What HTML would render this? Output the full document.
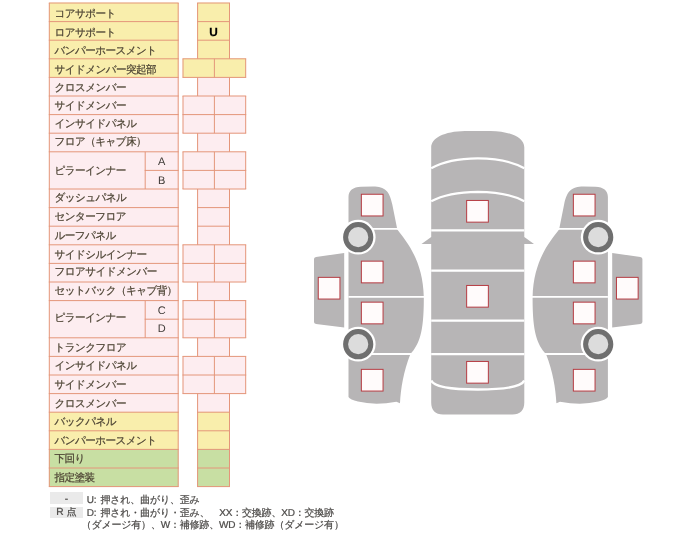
<!DOCTYPE html>
<html lang="ja"><head><meta charset="utf-8"><title>骨格チェック</title>
<style>
html,body{margin:0;padding:0;background:#fff}
body{width:692px;height:535px;position:relative;overflow:hidden;font-family:"Liberation Sans",sans-serif;color:#4d4434;text-rendering:geometricPrecision}
svg{position:absolute;left:0;top:0}
#t{position:absolute;left:0;top:0;width:692px;height:535px;will-change:transform;-webkit-text-stroke:0.22px currentColor}
.lbl{position:absolute;left:54.6px;height:18.60px;line-height:18.60px;font-size:10.6px;letter-spacing:-0.6px;white-space:nowrap;margin-top:0px}
.sub{position:absolute;left:145.2px;width:33.0px;text-align:center;height:18.60px;line-height:18.60px;font-size:11px;margin-top:1.3px;-webkit-text-stroke:0;color:#3e3a36}
.u{position:absolute;left:197.6px;width:31.9px;text-align:center;height:18.60px;line-height:18.60px;font-size:11.8px;font-weight:bold;color:#000;margin-top:1.3px}
.lg{position:absolute;color:#4c4a48;font-size:10px;letter-spacing:-0.2px;word-spacing:1.5px;white-space:nowrap;line-height:12.6px}
.gb{position:absolute;left:49.6px;width:33.8px;background:#eaeaea;color:#4c4a48;text-align:center;font-size:10.2px;line-height:12px;height:11.9px;overflow:hidden}
</style></head><body>
<svg width="692" height="535" viewBox="0 0 692 535">
<rect x="49.05" y="2.75" width="129.40" height="19.10" fill="#f9eeac"/>
<rect x="197.35" y="2.75" width="32.40" height="19.10" fill="#f9eeac"/>
<rect x="49.05" y="21.35" width="129.40" height="19.10" fill="#f9eeac"/>
<rect x="197.35" y="21.35" width="32.40" height="19.10" fill="#f9eeac"/>
<rect x="49.05" y="39.95" width="129.40" height="19.10" fill="#f9eeac"/>
<rect x="197.35" y="39.95" width="32.40" height="19.10" fill="#f9eeac"/>
<rect x="49.05" y="58.55" width="129.40" height="19.10" fill="#f9eeac"/>
<rect x="182.75" y="58.55" width="31.90" height="19.10" fill="#f9eeac"/>
<rect x="214.15" y="58.55" width="31.80" height="19.10" fill="#f9eeac"/>
<rect x="49.05" y="77.15" width="129.40" height="19.10" fill="#fdedf0"/>
<rect x="197.35" y="77.15" width="32.40" height="19.10" fill="#fdedf0"/>
<rect x="49.05" y="95.75" width="129.40" height="19.10" fill="#fdedf0"/>
<rect x="182.75" y="95.75" width="31.90" height="19.10" fill="#fdedf0"/>
<rect x="214.15" y="95.75" width="31.80" height="19.10" fill="#fdedf0"/>
<rect x="49.05" y="114.35" width="129.40" height="19.10" fill="#fdedf0"/>
<rect x="182.75" y="114.35" width="31.90" height="19.10" fill="#fdedf0"/>
<rect x="214.15" y="114.35" width="31.80" height="19.10" fill="#fdedf0"/>
<rect x="49.05" y="132.95" width="129.40" height="19.10" fill="#fdedf0"/>
<rect x="197.35" y="132.95" width="32.40" height="19.10" fill="#fdedf0"/>
<rect x="49.05" y="151.55" width="96.40" height="37.70" fill="#fdedf0"/>
<rect x="144.95" y="151.55" width="33.50" height="19.10" fill="#fdedf0"/>
<rect x="144.95" y="170.15" width="33.50" height="19.10" fill="#fdedf0"/>
<rect x="182.75" y="151.55" width="31.90" height="19.10" fill="#fdedf0"/>
<rect x="214.15" y="151.55" width="31.80" height="19.10" fill="#fdedf0"/>
<rect x="182.75" y="170.15" width="31.90" height="19.10" fill="#fdedf0"/>
<rect x="214.15" y="170.15" width="31.80" height="19.10" fill="#fdedf0"/>
<rect x="49.05" y="188.75" width="129.40" height="19.10" fill="#fdedf0"/>
<rect x="197.35" y="188.75" width="32.40" height="19.10" fill="#fdedf0"/>
<rect x="49.05" y="207.35" width="129.40" height="19.10" fill="#fdedf0"/>
<rect x="197.35" y="207.35" width="32.40" height="19.10" fill="#fdedf0"/>
<rect x="49.05" y="225.95" width="129.40" height="19.10" fill="#fdedf0"/>
<rect x="197.35" y="225.95" width="32.40" height="19.10" fill="#fdedf0"/>
<rect x="49.05" y="244.55" width="129.40" height="19.10" fill="#fdedf0"/>
<rect x="182.75" y="244.55" width="31.90" height="19.10" fill="#fdedf0"/>
<rect x="214.15" y="244.55" width="31.80" height="19.10" fill="#fdedf0"/>
<rect x="49.05" y="263.15" width="129.40" height="19.10" fill="#fdedf0"/>
<rect x="182.75" y="263.15" width="31.90" height="19.10" fill="#fdedf0"/>
<rect x="214.15" y="263.15" width="31.80" height="19.10" fill="#fdedf0"/>
<rect x="49.05" y="281.75" width="129.40" height="19.10" fill="#fdedf0"/>
<rect x="197.35" y="281.75" width="32.40" height="19.10" fill="#fdedf0"/>
<rect x="49.05" y="300.35" width="96.40" height="37.70" fill="#fdedf0"/>
<rect x="144.95" y="300.35" width="33.50" height="19.10" fill="#fdedf0"/>
<rect x="144.95" y="318.95" width="33.50" height="19.10" fill="#fdedf0"/>
<rect x="182.75" y="300.35" width="31.90" height="19.10" fill="#fdedf0"/>
<rect x="214.15" y="300.35" width="31.80" height="19.10" fill="#fdedf0"/>
<rect x="182.75" y="318.95" width="31.90" height="19.10" fill="#fdedf0"/>
<rect x="214.15" y="318.95" width="31.80" height="19.10" fill="#fdedf0"/>
<rect x="49.05" y="337.55" width="129.40" height="19.10" fill="#fdedf0"/>
<rect x="197.35" y="337.55" width="32.40" height="19.10" fill="#fdedf0"/>
<rect x="49.05" y="356.15" width="129.40" height="19.10" fill="#fdedf0"/>
<rect x="182.75" y="356.15" width="31.90" height="19.10" fill="#fdedf0"/>
<rect x="214.15" y="356.15" width="31.80" height="19.10" fill="#fdedf0"/>
<rect x="49.05" y="374.75" width="129.40" height="19.10" fill="#fdedf0"/>
<rect x="182.75" y="374.75" width="31.90" height="19.10" fill="#fdedf0"/>
<rect x="214.15" y="374.75" width="31.80" height="19.10" fill="#fdedf0"/>
<rect x="49.05" y="393.35" width="129.40" height="19.10" fill="#fdedf0"/>
<rect x="197.35" y="393.35" width="32.40" height="19.10" fill="#fdedf0"/>
<rect x="49.05" y="411.95" width="129.40" height="19.10" fill="#f9eeac"/>
<rect x="197.35" y="411.95" width="32.40" height="19.10" fill="#f9eeac"/>
<rect x="49.05" y="430.55" width="129.40" height="19.10" fill="#f9eeac"/>
<rect x="197.35" y="430.55" width="32.40" height="19.10" fill="#f9eeac"/>
<rect x="49.05" y="449.15" width="129.40" height="19.10" fill="#c8dfa3"/>
<rect x="197.35" y="449.15" width="32.40" height="19.10" fill="#c8dfa3"/>
<rect x="49.05" y="467.75" width="129.40" height="19.10" fill="#c8dfa3"/>
<rect x="197.35" y="467.75" width="32.40" height="19.10" fill="#c8dfa3"/>
<path d="M48.80,3.00H178.70M197.10,3.00H230.00M48.80,21.60H178.70M197.10,21.60H230.00M48.80,40.20H178.70M197.10,40.20H230.00M48.80,58.80H178.70M182.50,58.80H246.20M48.80,77.40H178.70M182.50,77.40H246.20M48.80,96.00H178.70M182.50,96.00H246.20M48.80,114.60H178.70M182.50,114.60H246.20M48.80,133.20H178.70M182.50,133.20H246.20M48.80,151.80H178.70M182.50,151.80H246.20M144.70,170.40H178.70M182.50,170.40H246.20M48.80,189.00H178.70M182.50,189.00H246.20M48.80,207.60H178.70M197.10,207.60H230.00M48.80,226.20H178.70M197.10,226.20H230.00M48.80,244.80H178.70M182.50,244.80H246.20M48.80,263.40H178.70M182.50,263.40H246.20M48.80,282.00H178.70M182.50,282.00H246.20M48.80,300.60H178.70M182.50,300.60H246.20M144.70,319.20H178.70M182.50,319.20H246.20M48.80,337.80H178.70M182.50,337.80H246.20M48.80,356.40H178.70M182.50,356.40H246.20M48.80,375.00H178.70M182.50,375.00H246.20M48.80,393.60H178.70M182.50,393.60H246.20M48.80,412.20H178.70M197.10,412.20H230.00M48.80,430.80H178.70M197.10,430.80H230.00M48.80,449.40H178.70M197.10,449.40H230.00M48.80,468.00H178.70M197.10,468.00H230.00M48.80,486.60H178.70M197.10,486.60H230.00M49.30,3.00V486.60M145.20,151.80V189.00M145.20,300.60V337.80M178.20,3.00V486.60M183.00,58.80V77.40M183.00,96.00V133.20M183.00,151.80V189.00M183.00,244.80V282.00M183.00,300.60V337.80M183.00,356.40V393.60M197.60,3.00V58.80M197.60,77.40V96.00M197.60,133.20V151.80M197.60,189.00V244.80M197.60,282.00V300.60M197.60,337.80V356.40M197.60,393.60V486.60M214.40,58.80V77.40M214.40,96.00V133.20M214.40,151.80V189.00M214.40,244.80V282.00M214.40,300.60V337.80M214.40,356.40V393.60M229.50,3.00V58.80M229.50,77.40V96.00M229.50,133.20V151.80M229.50,189.00V244.80M229.50,282.00V300.60M229.50,337.80V356.40M229.50,393.60V486.60M245.70,58.80V77.40M245.70,96.00V133.20M245.70,151.80V189.00M245.70,244.80V282.00M245.70,300.60V337.80M245.70,356.40V393.60" stroke="#e4967a" stroke-width="1" fill="none"/>
<path fill="#b7b5b6" d="M431.2,147.5 C431.2,138 444,131.2 465,130.9 L490.5,130.9 C511.5,131.2 524.3,138 524.3,147.5 L524.3,237 L534,244 L524.3,244 L524.3,402.5 C524.3,410.5 520,414.4 512.5,414.4 L443,414.4 C435.5,414.4 431.2,410.5 431.2,402.5 L431.2,244 L421.5,244 L431.2,237 Z"/>
<path stroke="#fff" fill="none" stroke-width="2.3" d="M431.2,168.3 C444,161 460,158.4 477.75,158.3 C495.5,158.4 511.5,161 524.3,168.3"/>
<path stroke="#fff" fill="none" stroke-width="2.3" d="M431.2,201.2 C444,194.3 460,192 477.75,191.8 C495.5,192 511.5,194.3 524.3,201.2"/>
<path stroke="#fff" fill="none" stroke-width="2.2" d="M431.2,230.4 H524.3 M431.2,270.6 H524.3 M431.2,320.6 H524.3 M431.2,354.1 H524.3"/>
<path stroke="#fff" fill="none" stroke-width="2.5" d="M431.2,380.5 Q435,389.5 477.75,389.5 Q520.5,389.5 524.3,380.5"/>
<path fill="#b7b5b6" d="M348.5,197 C348.5,190.5 353,187 361,186.7 L373,186.5 C385,186.5 389.5,191 392.3,204.5 L397.3,229.5 C408,243 423,262 423.8,297 C424,332 419.5,344 410.3,354.2 C403.5,372 400.8,388 400,403.2 L396.4,401.8 Q375,405.8 358,401.6 Q350,399.5 348.5,397 Z"/>
<path fill="#b7b5b6" d="M314,259 Q314,257.4 316,257.1 L344.2,252.9 L344.2,327.6 L316,323.9 Q314,323.6 314,322 Z"/>
<path stroke="#fff" fill="none" stroke-width="1.8" d="M358,228.9 H398.5 M348.5,296.9 H425 M358,354.0 H411.5"/>
<circle cx="358.2" cy="237.2" r="17.4" fill="#fff"/>
<circle cx="358.2" cy="237.2" r="12.6" fill="#dcdcdc" stroke="#6f6f6f" stroke-width="5"/>
<circle cx="358.2" cy="344.2" r="17.4" fill="#fff"/>
<circle cx="358.2" cy="344.2" r="12.6" fill="#dcdcdc" stroke="#6f6f6f" stroke-width="5"/>
<rect x="361.35" y="194.25" width="21.7" height="21.7" fill="#fffbfb" stroke="#b63b42" stroke-width="1"/>
<rect x="361.35" y="261.15" width="21.7" height="21.7" fill="#fffbfb" stroke="#b63b42" stroke-width="1"/>
<rect x="361.35" y="302.15" width="21.7" height="21.7" fill="#fffbfb" stroke="#b63b42" stroke-width="1"/>
<rect x="361.35" y="369.35" width="21.7" height="21.7" fill="#fffbfb" stroke="#b63b42" stroke-width="1"/>
<rect x="318.25" y="277.35" width="21.7" height="21.7" fill="#fffbfb" stroke="#b63b42" stroke-width="1"/>
<path fill="#b7b5b6" d="M607.9,197 C607.9,190.5 603.4,187 595.4,186.7 L583.4,186.5 C571.4,186.5 566.9,191 564.1,204.5 L559.1,229.5 C548.4,243 533.4,262 532.6,297 C532.4,332 536.9,344 546.1,354.2 C552.9,372 555.6,388 556.4,403.2 L560.0,401.8 Q581.4,405.8 598.4,401.6 Q606.4,399.5 607.9,397 Z"/>
<path fill="#b7b5b6" d="M642.4,259 Q642.4,257.4 640.4,257.1 L612.2,252.9 L612.2,327.6 L640.4,323.9 Q642.4,323.6 642.4,322 Z"/>
<path stroke="#fff" fill="none" stroke-width="1.8" d="M598.4,228.9 H557.9 M607.9,296.9 H531.4 M598.4,354.0 H544.9"/>
<circle cx="598.2" cy="237.2" r="17.4" fill="#fff"/>
<circle cx="598.2" cy="237.2" r="12.6" fill="#dcdcdc" stroke="#6f6f6f" stroke-width="5"/>
<circle cx="598.2" cy="344.2" r="17.4" fill="#fff"/>
<circle cx="598.2" cy="344.2" r="12.6" fill="#dcdcdc" stroke="#6f6f6f" stroke-width="5"/>
<rect x="573.35" y="194.25" width="21.7" height="21.7" fill="#fffbfb" stroke="#b63b42" stroke-width="1"/>
<rect x="573.35" y="261.15" width="21.7" height="21.7" fill="#fffbfb" stroke="#b63b42" stroke-width="1"/>
<rect x="573.35" y="302.15" width="21.7" height="21.7" fill="#fffbfb" stroke="#b63b42" stroke-width="1"/>
<rect x="573.35" y="369.35" width="21.7" height="21.7" fill="#fffbfb" stroke="#b63b42" stroke-width="1"/>
<rect x="616.45" y="277.35" width="21.7" height="21.7" fill="#fffbfb" stroke="#b63b42" stroke-width="1"/>
<rect x="466.65" y="200.45" width="21.7" height="21.7" fill="#fffbfb" stroke="#b63b42" stroke-width="1"/>
<rect x="466.65" y="285.45" width="21.7" height="21.7" fill="#fffbfb" stroke="#b63b42" stroke-width="1"/>
<rect x="466.65" y="361.45" width="21.7" height="21.7" fill="#fffbfb" stroke="#b63b42" stroke-width="1"/>
</svg>
<div id="t">
<div class="lbl" style="top:5.20px">コアサポート</div>
<div class="lbl" style="top:23.80px">ロアサポート</div>
<div class="lbl" style="top:41.90px">バンパーホースメント</div>
<div class="lbl" style="top:60.70px">サイドメンバー突起部</div>
<div class="lbl" style="top:79.20px">クロスメンバー</div>
<div class="lbl" style="top:96.90px">サイドメンバー</div>
<div class="lbl" style="top:114.90px">インサイドパネル</div>
<div class="lbl" style="top:133.20px">フロア（キャブ床）</div>
<div class="lbl" style="top:153.40px;height:37.20px;line-height:37.20px">ピラーインナー</div>
<div class="sub" style="top:151.80px">A</div>
<div class="sub" style="top:170.40px">B</div>
<div class="lbl" style="top:189.10px">ダッシュパネル</div>
<div class="lbl" style="top:208.10px">センターフロア</div>
<div class="lbl" style="top:226.70px">ルーフパネル</div>
<div class="lbl" style="top:245.50px">サイドシルインナー</div>
<div class="lbl" style="top:263.40px">フロアサイドメンバー</div>
<div class="lbl" style="top:282.10px">セットバック（キャブ背）</div>
<div class="lbl" style="top:300.10px;height:37.20px;line-height:37.20px">ピラーインナー</div>
<div class="sub" style="top:300.60px">C</div>
<div class="sub" style="top:319.20px">D</div>
<div class="lbl" style="top:338.90px">トランクフロア</div>
<div class="lbl" style="top:357.10px">インサイドパネル</div>
<div class="lbl" style="top:376.30px">サイドメンバー</div>
<div class="lbl" style="top:394.70px">クロスメンバー</div>
<div class="lbl" style="top:413.00px">バックパネル</div>
<div class="lbl" style="top:431.60px">バンパーホースメント</div>
<div class="lbl" style="top:450.10px">下回り</div>
<div class="lbl" style="top:469.00px">指定塗装</div>
<div class="u" style="top:21.60px">U</div>
<div class="gb" style="top:492.4px;line-height:15.5px">-</div>
<div class="gb" style="top:506.5px">R 点</div>
<div class="lg" style="left:86.8px;top:495.1px">U: 押され、曲がり、歪み</div>
<div class="lg" style="left:86.8px;top:508.2px">D: 押され・曲がり・歪み、　XX：交換跡、XD：交換跡</div>
<div class="lg" style="left:81.6px;top:520.1px">（ダメージ有）、W：補修跡、WD：補修跡（ダメージ有）</div>
</div>
</body></html>
